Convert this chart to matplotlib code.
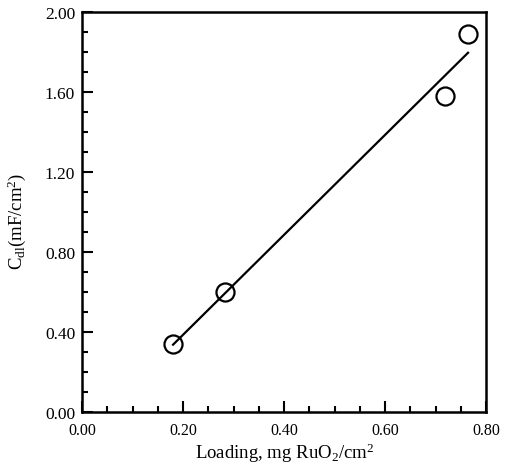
import numpy as np
import matplotlib.pyplot as plt
from matplotlib.ticker import MultipleLocator, FormatStrFormatter

plt.rcParams['font.family'] = 'Liberation Serif'
plt.rcParams['mathtext.fontset'] = 'custom'
plt.rcParams['mathtext.rm'] = 'Liberation Serif'
plt.rcParams['mathtext.it'] = 'Liberation Serif:italic'

# data
loading = [0.18, 0.283, 0.719, 0.764]   # mg RuO2/cm2
cdl = [0.34, 0.60, 1.58, 1.89]           # mF/cm2

# linear fit through the points
slope, intercept = np.polyfit(loading, cdl, 1)
fit_x = np.array([min(loading), max(loading)])
fit_y = slope * fit_x + intercept

fig = plt.figure(figsize=(5.07, 4.77), dpi=100)
ax = fig.add_axes([0.162, 0.134, 0.797, 0.839])

ax.plot(fit_x, fit_y, color='black', lw=1.6)
ax.plot(loading, cdl, 'o', ms=13, mfc='none', mec='black', mew=1.6)

ax.set_xlim(0, 0.8)
ax.set_ylim(0, 2.0)
ax.xaxis.set_major_locator(MultipleLocator(0.2))
ax.xaxis.set_minor_locator(MultipleLocator(0.05))
ax.yaxis.set_major_locator(MultipleLocator(0.4))
ax.yaxis.set_minor_locator(MultipleLocator(0.1))
ax.xaxis.set_major_formatter(FormatStrFormatter('%.2f'))
ax.yaxis.set_major_formatter(FormatStrFormatter('%.2f'))

ax.tick_params(which='both', direction='in', top=False, right=False, width=1.5)
ax.tick_params(which='major', length=8)
ax.tick_params(which='minor', length=4)
ax.tick_params(axis='x', pad=7, labelsize=11.5)
ax.tick_params(axis='y', pad=5, labelsize=12.5)
for s in ax.spines.values():
    s.set_linewidth(1.8)

ax.set_xlabel('Loading, mg RuO$_2$/cm$^2$', fontsize=13.5, labelpad=2)
ax.set_ylabel('C$_{\\rm dl}$(mF/cm$^2$)', fontsize=13.5)
ax.yaxis.set_label_coords(-0.135, 0.48)

fig.savefig('out.png', dpi=100)
